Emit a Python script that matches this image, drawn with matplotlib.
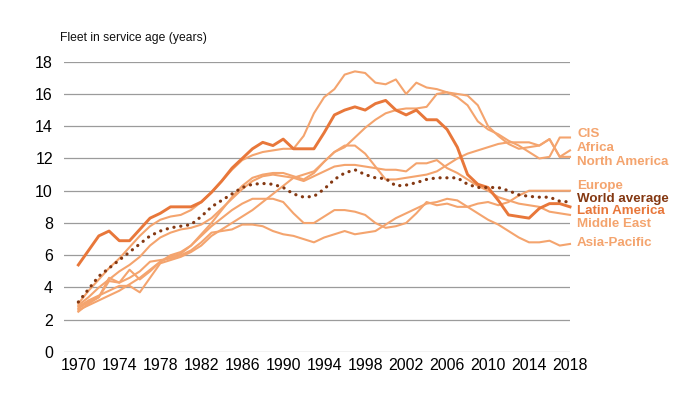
import matplotlib
matplotlib.use("Agg")
import matplotlib.pyplot as plt
import numpy as np

plt.rcParams["font.family"] = ["Liberation Sans Narrow", "Liberation Sans", "DejaVu Sans"]

years = np.arange(1970, 2019)

# fleet in service age (years)
cis = [3.0, 3.8, 4.5, 5.2, 5.8, 6.5, 7.2, 7.8, 8.2, 8.4,
       8.5, 8.8, 9.3, 9.9, 10.6, 11.3, 11.9, 12.2, 12.4, 12.5,
       12.6, 12.6, 13.4, 14.8, 15.8, 16.3, 17.2, 17.4, 17.3, 16.7,
       16.6, 16.9, 16.0, 16.7, 16.4, 16.3, 16.1, 15.8, 15.3, 14.3,
       13.8, 13.5, 13.1, 12.8, 12.4, 12.0, 12.1, 13.3, 13.3]
africa = [2.8, 3.2, 3.5, 3.8, 4.1, 4.1, 3.7, 4.6, 5.5, 5.7,
          5.9, 6.2, 6.6, 7.2, 7.6, 8.0, 8.4, 8.8, 9.3, 9.8,
          10.3, 10.8, 11.0, 11.2, 11.8, 12.4, 12.7, 13.3, 13.9, 14.4,
          14.8, 15.0, 15.1, 15.1, 15.2, 16.0, 16.1, 16.0, 15.9, 15.3,
          14.0, 13.4, 12.9, 12.6, 12.7, 12.8, 13.2, 12.1, 12.5]
north_america = [2.6, 2.9, 3.2, 3.5, 3.8, 4.2, 4.6, 5.1, 5.6, 5.9,
                 6.1, 6.6, 7.3, 8.0, 8.8, 9.6, 10.3, 10.8, 11.0, 11.1,
                 11.1, 10.9, 10.7, 11.1, 11.8, 12.4, 12.8, 12.8, 12.3, 11.5,
                 10.7, 10.7, 10.8, 10.9, 11.0, 11.2, 11.6, 12.0, 12.3, 12.5,
                 12.7, 12.9, 13.0, 13.0, 13.0, 12.8, 13.2, 12.1, 12.1]
europe = [2.7, 3.1, 3.4, 4.4, 4.3, 5.1, 4.5, 5.0, 5.6, 6.0,
          6.2, 6.6, 7.2, 7.8, 8.3, 8.8, 9.2, 9.5, 9.5, 9.5,
          9.3, 8.6, 8.0, 8.0, 8.4, 8.8, 8.8, 8.7, 8.5, 8.0,
          7.7, 7.8, 8.0, 8.6, 9.3, 9.1, 9.2, 9.0, 9.0, 9.2,
          9.3, 9.1, 9.3, 9.7, 10.0, 10.0, 10.0, 10.0, 10.0]
world_average = [3.1, 3.9, 4.7, 5.2, 5.7, 6.2, 6.7, 7.2, 7.5, 7.7,
                 7.8, 7.9, 8.4, 9.0, 9.4, 9.8, 10.2, 10.4, 10.45, 10.4,
                 10.2, 9.8, 9.6, 9.65, 10.1, 10.7, 11.1, 11.3, 11.0, 10.8,
                 10.75, 10.3, 10.35, 10.5, 10.7, 10.8, 10.8, 10.8, 10.4, 10.2,
                 10.2, 10.2, 10.0, 9.75, 9.65, 9.6, 9.6, 9.35, 9.3]
latin_america = [5.4, 6.3, 7.2, 7.5, 6.9, 6.9, 7.6, 8.3, 8.6, 9.0,
                 9.0, 9.0, 9.3, 9.9, 10.6, 11.4, 12.0, 12.6, 13.0, 12.8,
                 13.2, 12.6, 12.6, 12.6, 13.6, 14.7, 15.0, 15.2, 15.0, 15.4,
                 15.6, 15.0, 14.7, 15.0, 14.4, 14.4, 13.8, 12.7, 11.0, 10.4,
                 10.2, 9.4, 8.5, 8.4, 8.3, 8.9, 9.2, 9.2, 9.0]
middle_east = [2.9, 3.4, 4.0, 4.5, 5.0, 5.4, 5.9, 6.6, 7.1, 7.4,
               7.6, 7.7, 7.9, 8.3, 8.9, 9.5, 10.1, 10.6, 10.9, 11.0,
               10.9, 10.8, 10.6, 10.9, 11.2, 11.5, 11.6, 11.6, 11.5, 11.4,
               11.3, 11.3, 11.2, 11.7, 11.7, 11.9, 11.4, 11.1, 10.7, 10.3,
               10.0, 9.6, 9.4, 9.2, 9.1, 9.0, 8.7, 8.6, 8.5]
asia_pacific = [2.5, 3.0, 3.4, 4.6, 4.3, 4.6, 5.0, 5.6, 5.7, 5.8,
                6.0, 6.3, 6.8, 7.4, 7.5, 7.6, 7.9, 7.9, 7.8, 7.5,
                7.3, 7.2, 7.0, 6.8, 7.1, 7.3, 7.5, 7.3, 7.4, 7.5,
                7.9, 8.3, 8.6, 8.9, 9.2, 9.3, 9.5, 9.4, 9.0, 8.6,
                8.2, 7.9, 7.5, 7.1, 6.8, 6.8, 6.9, 6.6, 6.7]

names = ["CIS", "Africa", "North America", "Europe", "World average",
         "Latin America", "Middle East", "Asia-Pacific"]
series = [cis, africa, north_america, europe, world_average,
          latin_america, middle_east, asia_pacific]

LIGHT = "#F4A46E"
MID = "#E8773A"
DARK = "#843812"
colors = [LIGHT, LIGHT, LIGHT, LIGHT, DARK, MID, LIGHT, LIGHT]
label_y = [13.5, 12.65, 11.8, 10.3, 9.5, 8.72, 7.95, 6.75]

fig = plt.figure(figsize=(6.93, 3.95), dpi=100)
ax = fig.add_axes([64 / 693, 1 - 352 / 395, (570 - 64) / 693, (352 - 61.7) / 395])
ax.set_xlim(1968.6, 2018)
ax.set_ylim(0, 18)

for v in range(0, 19, 2):
    ax.axhline(v, color="#9b9b9b", lw=0.9, zorder=0)

# light regional lines first, then Latin America and the world average on top
order = [0, 1, 2, 3, 6, 7, 5, 4]
for i in order:
    if names[i] == "World average":
        ax.plot(years, series[i], color=colors[i], lw=2.3,
                ls=(0, (0.05, 2.1)), dash_capstyle="round", zorder=5, clip_on=False)
    elif names[i] == "Latin America":
        ax.plot(years, series[i], color=colors[i], lw=2.1, zorder=4, clip_on=False)
    else:
        ax.plot(years, series[i], color=colors[i], lw=1.5, zorder=3, clip_on=False)

for name, c, y in zip(names, colors, label_y):
    ax.text(2018.7, y, name, color=c, fontsize=9.6, fontweight="bold",
            va="center", ha="left", clip_on=False)

ax.set_xticks(np.arange(1970, 2019, 4))
ax.set_yticks(np.arange(0, 19, 2))
ax.tick_params(length=0, labelsize=11.5, pad=4)
ax.tick_params(axis="y", pad=8)
for s in ax.spines.values():
    s.set_visible(False)

fig.text(60 / 693, 1 - 38 / 395, "Fleet in service age (years)", fontsize=8.7,
         va="center", ha="left", color="#111111")

fig.savefig("out.png", dpi=100)
